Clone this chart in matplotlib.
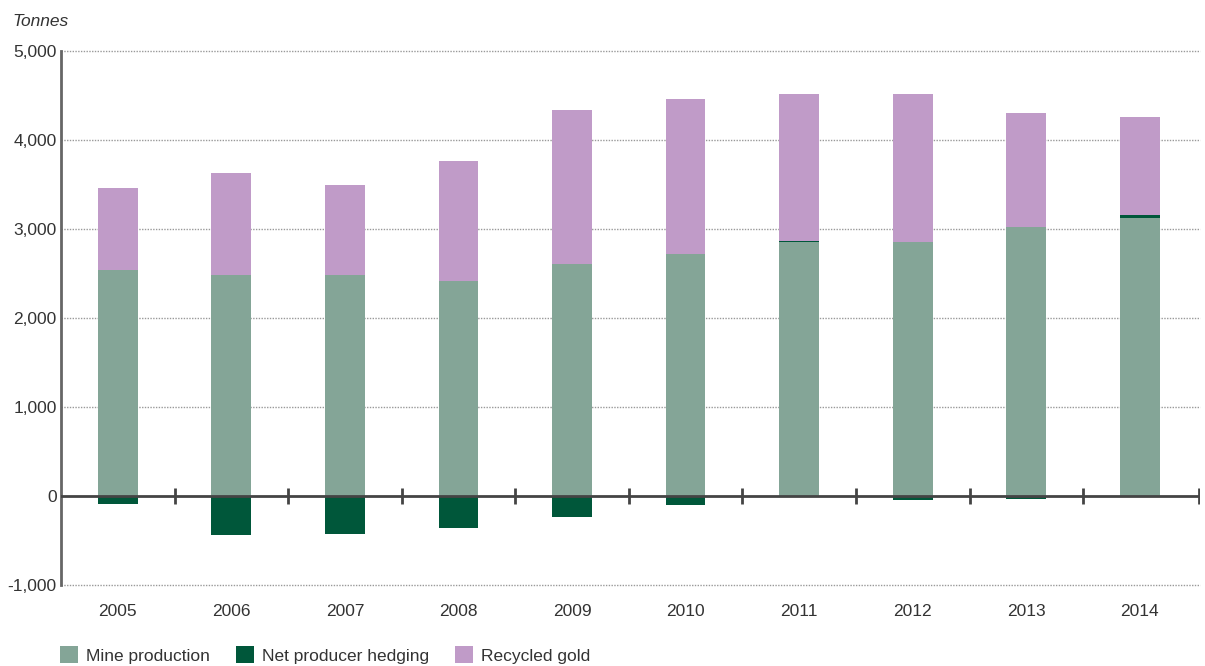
import numpy as np
import matplotlib.pyplot as plt

plt.rcParams['font.family'] = ['Liberation Sans Narrow', 'Liberation Sans', 'DejaVu Sans']

# Gold supply by source, tonnes
years = ['2005', '2006', '2007', '2008', '2009', '2010', '2011', '2012', '2013', '2014']
mine_production = [2540, 2485, 2485, 2415, 2605, 2720, 2850, 2855, 3025, 3120]
net_hedging = [-92, -434, -432, -357, -234, -106, 11, -45, -30, 35]
recycled_gold = [920, 1145, 1010, 1350, 1730, 1740, 1660, 1660, 1280, 1100]

c_mine = '#84a597'
c_hedge = '#00573a'
c_recycled = '#c09bc8'
txt = '#333333'

fig = plt.figure(figsize=(12.05, 6.66), dpi=100)
ax = fig.add_axes([0.0506, 0.1216, 0.9453, 0.8018])

x = np.arange(len(years))
mine = np.array(mine_production)
hedge = np.array(net_hedging)
recyc = np.array(recycled_gold)
w = 0.35

pos_hedge = np.clip(hedge, 0, None)
neg_hedge = np.clip(hedge, None, 0)

ax.bar(x, mine, w, color=c_mine, zorder=3, label='Mine production')
ax.bar(x, pos_hedge, w, bottom=mine, color=c_hedge, zorder=3)
ax.bar(x, neg_hedge, w, color=c_hedge, zorder=3, label='Net producer hedging')
ax.bar(x, recyc, w, bottom=mine + pos_hedge, color=c_recycled, zorder=3, label='Recycled gold')

# dotted gridlines
for yv in [-1000, 1000, 2000, 3000, 4000, 5000]:
    ax.axhline(yv, color='#999999', lw=1.0, ls=(0, (1, 1)), zorder=1, clip_on=False)

# zero line with category separators
ax.axhline(0, color='#444444', lw=2, zorder=4)
mids = x[:-1] + 0.5
mids = np.append(mids, x[-1] + 0.52)
ax.vlines(mids, -90, 90, color='#444444', lw=2, zorder=4)

ax.set_xlim(-0.5, 9.53)
ax.set_ylim(-1000, 5000)
ax.set_yticks(range(-1000, 5001, 1000))
ax.set_yticklabels([f'{v:,}' for v in range(-1000, 5001, 1000)], fontsize=12.5, color=txt)
ax.set_xticks(x)
ax.set_xticklabels(years, fontsize=12.5, color=txt)
ax.tick_params(axis='y', length=0, pad=3)
ax.tick_params(axis='x', length=0, pad=14)

for s in ['top', 'right', 'bottom']:
    ax.spines[s].set_visible(False)
ax.spines['left'].set_color('#666666')
ax.spines['left'].set_linewidth(2)

fig.text(0.010, 0.968, 'Tonnes', fontsize=12.5, style='italic', color=txt, va='center')

fig.legend(loc='lower left', bbox_to_anchor=(0.037, -0.02), ncol=3, frameon=False,
           fontsize=12.5, handlelength=1.0, handleheight=1.1, handletextpad=0.5,
           columnspacing=1.5, labelcolor=txt)

fig.savefig('out.png', dpi=100)
